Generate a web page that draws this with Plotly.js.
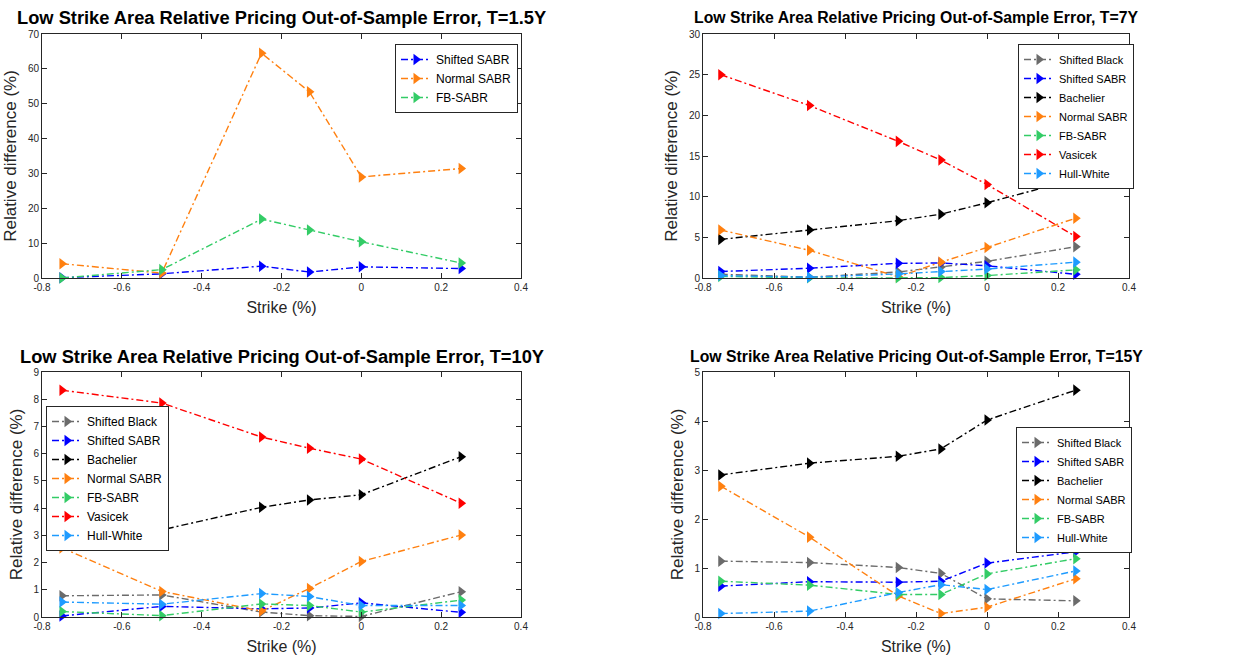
<!DOCTYPE html>
<html>
<head>
<meta charset="utf-8">
<script src="https://cdn.plot.ly/plotly-3.0.1.min.js"></script>
<style>
  html, body { margin: 0; padding: 0; background: #ffffff; }
  #chart { width: 1258px; height: 658px; }
</style>
</head>
<body>
<div id="chart"></div>
<script>
// Strike grid (%) shared by every maturity
const strikes = [-0.75, -0.5, -0.25, -0.13, 0, 0.25];

// Axis ticks
const xTickVals = [-0.8, -0.6, -0.4, -0.2, 0, 0.2, 0.4];
const xTickText = ['-0.8', '-0.6', '-0.4', '-0.2', '0', '0.2', '0.4'];

// Model names and colours
const modelNames = ['Shifted Black', 'Shifted SABR', 'Bachelier', 'Normal SABR', 'FB-SABR', 'Vasicek', 'Hull-White'];
const modelColors = ['#6b6b6b', '#0000ff', '#000000', '#ff8010', '#33cc66', '#ff0000', '#1e9bff'];

// T = 1.5Y relative errors (%)
const t15_shiftedSABR = [0.1, 1.2, 3.4, 1.7, 3.2, 2.7];
const t15_normalSABR  = [4.1, 1.4, 64.5, 53.4, 29.0, 31.4];
const t15_fbSABR      = [0.0, 2.4, 16.9, 13.8, 10.4, 4.3];

// T = 7Y relative errors (%)
const t7_shiftedBlack = [0.45, 0.1, 0.74, 1.35, 2.05, 3.85];
const t7_shiftedSABR  = [0.8, 1.2, 1.8, 1.85, 1.5, 0.45];
const t7_bachelier    = [4.75, 5.9, 7.05, 7.85, 9.25, 12.15];
const t7_normalSABR   = [5.9, 3.4, 0.15, 1.95, 3.75, 7.35];
const t7_fbSABR       = [0.2, 0.02, 0.02, 0.05, 0.3, 1.0];
const t7_vasicek      = [25.0, 21.2, 16.8, 14.5, 11.5, 5.1];
const t7_hullWhite    = [0.3, 0.1, 0.5, 0.8, 1.1, 1.95];

// T = 10Y relative errors (%)
const t10_shiftedBlack = [0.78, 0.81, 0.18, 0.05, 0.02, 0.93];
const t10_shiftedSABR  = [0.04, 0.39, 0.3, 0.33, 0.52, 0.17];
const t10_bachelier    = [3.09, 3.2, 4.03, 4.3, 4.49, 5.89];
const t10_normalSABR   = [2.54, 0.94, 0.22, 1.05, 2.04, 3.01];
const t10_fbSABR       = [0.2, 0.05, 0.48, 0.42, 0.18, 0.62];
const t10_vasicek      = [8.33, 7.86, 6.61, 6.2, 5.8, 4.18];
const t10_hullWhite    = [0.55, 0.47, 0.86, 0.75, 0.42, 0.42];

// T = 15Y relative errors (%)
const t15y_shiftedBlack = [1.14, 1.11, 1.01, 0.89, 0.37, 0.33];
const t15y_shiftedSABR  = [0.63, 0.72, 0.71, 0.73, 1.1, 1.33];
const t15y_bachelier    = [2.9, 3.14, 3.28, 3.43, 4.02, 4.63];
const t15y_normalSABR   = [2.67, 1.63, 0.43, 0.07, 0.2, 0.78];
const t15y_fbSABR       = [0.73, 0.65, 0.46, 0.46, 0.88, 1.19];
const t15y_hullWhite    = [0.07, 0.12, 0.5, 0.66, 0.56, 0.94];

const W = 1258, H = 658;
const px = v => v / W;
const py = v => 1 - v / H;

// Panel frames in pixels: [left, right, top, bottom]; right-hand panels use tighter text
const panels = [
  { box: [42, 521, 34, 278],  yMax: 70, yStep: 10, title: 'Low Strike Area Relative Pricing Out-of-Sample Error, T=1.5Y', titleSize: 18.3, legendSize: 12 },
  { box: [703, 1129, 34, 278], yMax: 30, yStep: 5,  title: 'Low Strike Area Relative Pricing Out-of-Sample Error, T=7Y',   titleSize: 15.8, legendSize: 11 },
  { box: [42, 521, 372, 617],  yMax: 9,  yStep: 1,  title: 'Low Strike Area Relative Pricing Out-of-Sample Error, T=10Y',  titleSize: 18.3, legendSize: 12 },
  { box: [703, 1129, 372, 617], yMax: 5, yStep: 1,  title: 'Low Strike Area Relative Pricing Out-of-Sample Error, T=15Y',  titleSize: 15.8, legendSize: 11 }
];

// Series per panel: [model index, values]
const panelSeries = [
  [[1, t15_shiftedSABR], [3, t15_normalSABR], [4, t15_fbSABR]],
  [[0, t7_shiftedBlack], [1, t7_shiftedSABR], [2, t7_bachelier], [3, t7_normalSABR], [4, t7_fbSABR], [5, t7_vasicek], [6, t7_hullWhite]],
  [[0, t10_shiftedBlack], [1, t10_shiftedSABR], [2, t10_bachelier], [3, t10_normalSABR], [4, t10_fbSABR], [5, t10_vasicek], [6, t10_hullWhite]],
  [[0, t15y_shiftedBlack], [1, t15y_shiftedSABR], [2, t15y_bachelier], [3, t15y_normalSABR], [4, t15y_fbSABR], [6, t15y_hullWhite]]
];

// Legend top-left corners in pixels
const legendPos = [[395, 44], [1018, 44], [46, 406], [1016, 427]];

const axisColor = '#262626';
const baseFont = 'Liberation Sans, Arial, Helvetica, sans-serif';

const traces = [];
const layout = {
  width: W, height: H,
  margin: { l: 0, r: 0, t: 0, b: 0 },
  paper_bgcolor: '#ffffff',
  plot_bgcolor: '#ffffff',
  showlegend: true,
  font: { family: baseFont, color: axisColor },
  annotations: []
};

panels.forEach((p, i) => {
  const n = i === 0 ? '' : String(i + 1);
  const xa = 'xaxis' + n, ya = 'yaxis' + n;
  const legendName = 'legend' + n;
  const [l, r, t, b] = p.box;

  const yVals = [];
  for (let v = 0; v <= p.yMax + 1e-9; v += p.yStep) yVals.push(Math.round(v * 100) / 100);

  layout[xa] = {
    domain: [px(l), px(r)],
    anchor: 'y' + n,
    range: [-0.8, 0.4],
    tickmode: 'array', tickvals: xTickVals, ticktext: xTickText,
    ticks: 'inside', ticklen: 5, tickwidth: 1, tickcolor: axisColor,
    showline: true, linecolor: axisColor, linewidth: 1, mirror: 'allticks',
    showgrid: false, zeroline: false,
    tickfont: { size: 10, color: axisColor, family: baseFont },
    title: { text: 'Strike (%)', font: { size: 16, color: axisColor, family: baseFont }, standoff: 9 }
  };
  layout[ya] = {
    domain: [py(b), py(t)],
    anchor: 'x' + n,
    range: [0, p.yMax],
    tickmode: 'array', tickvals: yVals, ticktext: yVals.map(String),
    ticks: 'inside', ticklen: 5, tickwidth: 1, tickcolor: axisColor,
    showline: true, linecolor: axisColor, linewidth: 1, mirror: 'allticks',
    showgrid: false, zeroline: false,
    tickfont: { size: 10, color: axisColor, family: baseFont },
    title: { text: 'Relative difference (%)', font: { size: 17, color: axisColor, family: baseFont }, standoff: 6 }
  };

  layout[legendName] = {
    x: px(legendPos[i][0]), y: py(legendPos[i][1]),
    xanchor: 'left', yanchor: 'top',
    xref: 'paper', yref: 'paper',
    bgcolor: '#ffffff', bordercolor: axisColor, borderwidth: 1,
    font: { size: p.legendSize, color: '#000000', family: baseFont },
    itemwidth: 30, tracegroupgap: 0
  };

  layout.annotations.push({
    xref: 'paper', yref: 'paper',
    x: px((l + r) / 2), y: py(t - 16),
    xanchor: 'center', yanchor: 'middle',
    showarrow: false,
    text: '<b>' + p.title + '</b>',
    font: { size: p.titleSize, color: '#000000', family: baseFont }
  });

  panelSeries[i].forEach(([m, vals]) => {
    traces.push({
      type: 'scatter', mode: 'lines+markers',
      x: strikes, y: vals,
      xaxis: 'x' + n, yaxis: 'y' + n,
      name: modelNames[m],
      legend: legendName,
      line: { color: modelColors[m], width: 1.4, dash: '7px,3px,2px,3px' },
      marker: { symbol: 'triangle-right', size: 10, color: modelColors[m], line: { width: 0 } },
      cliponaxis: false
    });
  });
});

Plotly.newPlot('chart', traces, layout, { staticPlot: true });
</script>
</body>
</html>
